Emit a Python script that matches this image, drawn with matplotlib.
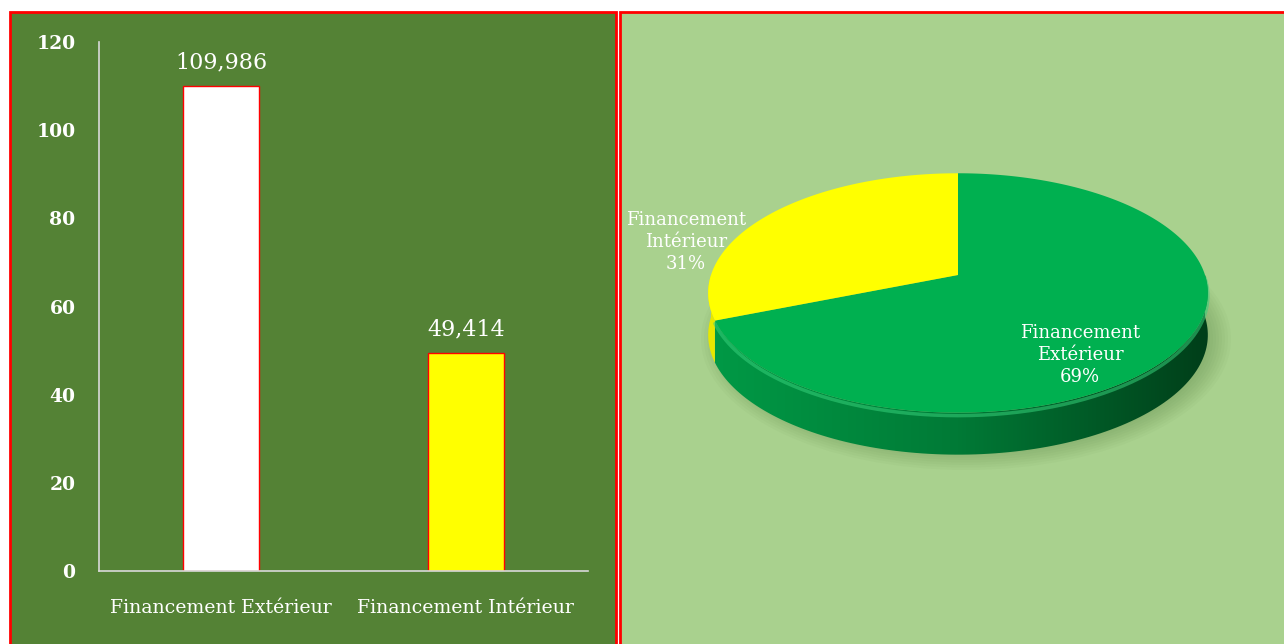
import numpy as np
import matplotlib.pyplot as plt
from matplotlib.patches import Rectangle, Polygon, Ellipse
from matplotlib.colors import LinearSegmentedColormap

categories = ["Financement Extérieur", "Financement Intérieur"]
values = [109.986, 49.414]
bar_colors = ["#FFFFFF", "#FFFF00"]
pie_colors = ["#00B050", "#FFFF00"]
side_colors = [["#009a46", "#007a36", "#003e19"], ["#e8e800", "#d6d600"]]
yticks = [0, 20, 40, 60, 80, 100, 120]

plt.rcParams["font.family"] = ["DejaVu Serif"]

W, H = 1284, 644
fig = plt.figure(figsize=(W / 100, H / 100), dpi=100)
fig.patch.set_facecolor("white")

# background panels, in pixel coords
bg = fig.add_axes([0, 0, 1, 1], zorder=0)
bg.add_patch(Rectangle((10, 12), 606, 660, facecolor="#548235", edgecolor="#FF0000", lw=2))
bg.add_patch(Rectangle((620, 12), 700, 660, facecolor="#A9D18E", edgecolor="#FF0000", lw=2))

# ---- 3D pie (simple perspective projection of a tilted disc)
cx, cy = 958, 275
A, B, p, depth = 247, 117, 0.15, 42


def proj(phi):
    X = np.cos(phi)
    Z = np.sin(phi)
    s = 1 + p * Z
    return cx + A * X / s, cy - B * Z / s


total = sum(values)
shares = [v / total for v in values]
bounds = 90 - 360 * np.concatenate([[0], np.cumsum(shares)])

# soft shadow
for k in range(8):
    bg.add_patch(Ellipse((966, cy + depth + 22), 530 - k * 6, 262 - k * 5,
                         facecolor="#3d6b2a", edgecolor="none", alpha=0.035))

# sides
for i in range(len(values)):
    a_hi, a_lo = bounds[i], bounds[i + 1]
    for off in (-360, 0, 360):
        lo = max(a_lo, 180 + off)
        hi = min(a_hi, 360 + off)
        if hi <= lo:
            continue
        phi = np.radians(np.linspace(lo, hi, 120))
        xs, ys = proj(phi)
        pts = np.column_stack([np.r_[xs, xs[::-1]], np.r_[ys, ys[::-1] + depth]])
        poly = Polygon(pts, closed=True, facecolor="none", edgecolor="none")
        bg.add_patch(poly)
        cmap = LinearSegmentedColormap.from_list("side%d" % i, side_colors[i])
        grad = np.linspace(0, 1, 256).reshape(1, -1)
        x0, x1 = cx - A * 1.02, cx + A * 1.02
        im = bg.imshow(grad, cmap=cmap, extent=[x0, x1, ys.max() + depth, ys.min()],
                       aspect="auto", zorder=2)
        im.set_clip_path(poly)

# highlight along the front rim
phi = np.radians(np.linspace(bounds[1], 0, 200))
xs, ys = proj(phi)
bg.plot(xs, ys + 3, color="#35d07a", lw=2.5, alpha=0.55, zorder=3, solid_capstyle="round")

# top faces
for i in range(len(values)):
    phi = np.radians(np.linspace(bounds[i], bounds[i + 1], 200))
    xs, ys = proj(phi)
    pts = np.column_stack([np.r_[cx, xs], np.r_[cy, ys]])
    bg.add_patch(Polygon(pts, closed=True, facecolor=pie_colors[i], edgecolor="none", zorder=4))

label_pos = [(1080, 355), (686, 242)]
for i, cat in enumerate(categories):
    txt = cat.replace(" ", "\n") + "\n%d%%" % round(shares[i] * 100)
    bg.text(label_pos[i][0], label_pos[i][1], txt, color="white", fontsize=13,
            ha="center", va="center", linespacing=1.3, zorder=5)

bg.set_xlim(0, W)
bg.set_ylim(H, 0)
bg.axis("off")

# ---- bar chart
ax = fig.add_axes([99 / W, (H - 571) / H, 489 / W, 529 / H], zorder=1)
ax.set_facecolor("none")
x = np.arange(len(categories))
ax.bar(x, values, width=0.31, color=bar_colors, edgecolor="#FF0000", linewidth=1)
for i, v in enumerate(values):
    ax.annotate(("%.3f" % v).replace(".", ","), (i, v), xytext=(0, 13),
                textcoords="offset points", ha="center", va="baseline",
                color="white", fontsize=16)
ax.set_xlim(-0.5, 1.5)
ax.set_ylim(0, 120)
ax.set_yticks(yticks)
ax.set_xticks(x)
ax.set_xticklabels(categories, fontsize=13.6, color="white")
ax.set_yticklabels([str(t) for t in yticks], fontsize=13.5, color="white", fontweight="bold")
ax.tick_params(length=0)
ax.tick_params(axis="y", pad=17)
ax.tick_params(axis="x", pad=20)
for s in ("top", "right"):
    ax.spines[s].set_visible(False)
for s in ("left", "bottom"):
    ax.spines[s].set_color("#d9d9d9")
    ax.spines[s].set_linewidth(1.2)

fig.savefig("out.png", dpi=100, facecolor=fig.get_facecolor())
